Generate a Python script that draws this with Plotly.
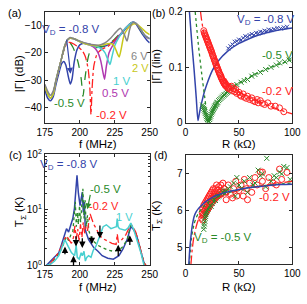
import math
import plotly.graph_objects as go

FONT = "Liberation Sans, Arial, Helvetica, sans-serif"
BLUE = "#3344aa"; GREEN = "#2a8a2a"; RED = "#ff2222"; MAG = "#b038b0"
CYAN = "#48d0d0"; YEL = "#c8c818"; GRAY = "#858585"

# ---------------- (a) |Gamma| (dB) vs f (MHz) ----------------
a_blue_f = [175, 177, 179, 181, 183, 185, 187, 188.5, 190, 191.5, 193.2, 194.5, 196, 198, 200, 203, 207, 211, 215, 219, 223, 227, 231, 234, 236.5, 238.2, 240, 242, 245, 248, 250]
a_blue_db = [-33.5, -36.5, -37.5, -36, -31.5, -27.5, -24, -23.2, -24.5, -28, -31.4, -29.5, -23.5, -19, -17.2, -16.6, -17, -17.8, -18, -17.5, -16.3, -14.5, -12.5, -10.5, -9.3, -8.9, -9.5, -11, -13.5, -15.5, -16.5]
a_green_f = [175, 177, 179, 181, 183, 185, 187, 189, 191, 193, 195, 197, 199, 201, 202.3, 203.8, 205.5, 207, 210, 214, 218, 222, 226, 230, 234, 236.5, 238.2, 240, 242, 245, 248, 250]
a_green_db = [-32, -34.5, -36, -34.5, -30, -26, -22, -18.5, -16.5, -16.5, -18, -20.5, -24, -29.5, -35.9, -29, -23, -20, -18.5, -18, -17.5, -16.5, -14.5, -12.5, -10.5, -9.4, -9, -9.5, -10.8, -13, -15, -16]
a_red_f = [175, 177, 179, 181, 183, 185, 187, 189, 191, 193, 196, 199, 202, 204, 206, 207.2, 208, 208.8, 210, 212, 214, 217, 220, 224, 228, 232, 235, 238, 240, 243, 246, 250]
a_red_db = [-32.5, -35, -36.5, -35, -30.5, -26, -22, -18.5, -16.5, -16.3, -17, -18, -19.5, -21.5, -26, -33, -42.5, -33, -25, -21, -19.5, -18.5, -17.8, -16, -14, -11.5, -10, -9.2, -9.4, -11.2, -13.5, -15.5]
a_mag_f = [175, 177, 179, 181, 183, 185, 187, 189, 191, 193, 196, 200, 204, 208, 211, 213, 215, 216.5, 217.7, 219, 221, 224, 228, 232, 235, 238, 240, 243, 246, 250]
a_mag_db = [-32, -35, -36.5, -35, -30, -26, -22, -18, -15.5, -14.8, -15, -16, -16.8, -17.5, -18.5, -20, -23, -27, -29.7, -25, -20, -17, -14, -11.5, -10, -9, -9.3, -11, -13.5, -15]
a_cyan_f = [175, 177, 179, 181, 183, 185, 187, 189, 191, 193, 196, 200, 204, 208, 212, 215, 218, 220, 221.6, 223, 225, 228, 232, 235, 238, 240, 243, 246, 250]
a_cyan_db = [-32, -35, -36.5, -35, -30, -26, -22, -18, -15.5, -14.8, -15, -16, -16.8, -17.3, -17.8, -18.5, -20, -22.5, -24.3, -21.5, -17.5, -14.5, -11.5, -10, -9, -9.3, -11, -13.5, -15]
a_yel_f = [175, 177, 179, 181, 183, 185, 187, 189, 191, 193, 196, 200, 204, 208, 212, 216, 220, 223, 225, 227, 228.2, 229.5, 231.5, 234, 237, 239, 241, 244, 247, 250]
a_yel_db = [-32, -35, -36.5, -35, -30, -26, -22, -18, -15.5, -14.8, -15, -16, -16.8, -17.3, -17.5, -17.2, -16.8, -16.8, -18, -20.5, -21.6, -19, -14, -11.5, -10, -9.5, -9.8, -11, -12.5, -13.5]
a_gray_f = [175, 177, 179, 181, 183, 185, 187, 189, 191, 193, 195, 198, 202, 206, 210, 214, 218, 222, 226, 229, 231.5, 233.8, 235.5, 237, 238.5, 241, 244, 247, 250]
a_gray_db = [-31.5, -34, -35.5, -34, -30, -26, -22, -18, -15.5, -14.5, -14.8, -15.5, -16.2, -16.8, -17.2, -17.3, -16.5, -14.8, -12.5, -11.2, -13, -15.8, -12, -9.6, -9.1, -9.8, -12, -14, -15]

# ---------------- (b) |Gamma| (lin) vs R (kOhm) ----------------
b_blue_fit_r = [3.6, 6, 8, 10, 11.6, 13, 15, 17.5, 20, 25, 30, 40, 50, 60, 70, 80, 90, 100]
b_blue_fit_g = [0.2, 0.14, 0.095, 0.045, 0.004, 0.018, 0.036, 0.055, 0.07, 0.094, 0.11, 0.13, 0.143, 0.152, 0.159, 0.164, 0.168, 0.171]
b_blue_pts_r = [40, 42, 44, 46, 48, 50, 52, 54, 56, 58, 60, 62, 64, 66, 68, 70, 72, 74, 76, 78, 80, 83, 86, 89, 92, 95]
b_blue_pts_g = [0.134, 0.138, 0.141, 0.146, 0.147, 0.15, 0.149, 0.153, 0.156, 0.155, 0.158, 0.16, 0.158, 0.162, 0.161, 0.164, 0.163, 0.166, 0.165, 0.168, 0.167, 0.169, 0.171, 0.17, 0.172, 0.173]
b_green_fit_r = [9, 12, 15, 18, 21.4, 25, 30, 40, 50, 60, 70, 80, 90, 100]
b_green_fit_g = [0.2, 0.14, 0.09, 0.045, 0.002, 0.02, 0.038, 0.058, 0.072, 0.083, 0.092, 0.1, 0.107, 0.114]
b_green_pts_r = [16, 16.5, 17, 17.5, 18, 18.5, 19, 19.5, 20, 20.5, 21, 21.5, 22, 22.5, 23, 23.5, 24, 24.5, 25, 25.5, 26, 26.5, 27, 27.5, 28, 28.5, 29, 29.5, 30, 31, 32, 33, 34, 35, 36, 37, 38, 39, 40, 42, 45, 48, 52, 55, 58, 62, 65, 70, 75, 80, 85, 88, 93, 97]
b_green_pts_g = [0.032, 0.029, 0.026, 0.023, 0.02, 0.017, 0.014, 0.011, 0.008, 0.006, 0.004, 0.002, 0.003, 0.006, 0.009, 0.012, 0.015, 0.018, 0.02, 0.022, 0.024, 0.026, 0.028, 0.03, 0.031, 0.033, 0.034, 0.036, 0.037, 0.04, 0.042, 0.044, 0.046, 0.048, 0.05, 0.051, 0.053, 0.055, 0.056, 0.06, 0.066, 0.069, 0.073, 0.076, 0.078, 0.084, 0.087, 0.091, 0.096, 0.1, 0.104, 0.108, 0.11, 0.113]
b_red_fit_r = [14, 15, 17, 20, 24, 28, 32, 36, 40, 45, 50, 55, 60, 70, 80, 90, 100]
b_red_fit_g = [0.2, 0.185, 0.163, 0.148, 0.13, 0.113, 0.098, 0.084, 0.072, 0.063, 0.056, 0.05, 0.045, 0.037, 0.029, 0.022, 0.016]
b_red_pts_r = [17, 17.5, 18, 18.5, 19, 19.5, 20, 20.5, 21, 21.5, 22, 22.5, 23, 23.5, 24, 24.5, 25, 25.5, 26, 26.5, 27, 27.5, 28, 28.5, 29, 29.5, 30, 30.5, 31, 31.5, 32, 32.5, 33, 33.5, 34, 34.5, 35, 35.5, 36, 36.5, 37, 37.5, 38, 39, 40, 41, 42, 43, 44, 45, 46, 47, 48, 50, 51, 52, 54, 55, 57, 58, 60, 62, 63, 65, 67, 68, 70, 72, 74, 77, 80, 84, 88, 92]
b_red_pts_g = [0.166, 0.162, 0.16, 0.157, 0.155, 0.152, 0.15, 0.147, 0.145, 0.142, 0.14, 0.137, 0.135, 0.132, 0.13, 0.127, 0.124, 0.121, 0.119, 0.116, 0.113, 0.111, 0.108, 0.105, 0.103, 0.1, 0.098, 0.095, 0.093, 0.09, 0.088, 0.086, 0.083, 0.081, 0.079, 0.077, 0.075, 0.073, 0.071, 0.07, 0.068, 0.067, 0.066, 0.064, 0.062, 0.064, 0.06, 0.066, 0.058, 0.062, 0.056, 0.06, 0.053, 0.055, 0.05, 0.048, 0.052, 0.046, 0.044, 0.048, 0.042, 0.045, 0.04, 0.038, 0.042, 0.036, 0.04, 0.035, 0.033, 0.036, 0.03, 0.03, 0.027, 0.02]

# ---------------- (c) T_Sigma (K) vs f (MHz), log ----------------
c_blue_f = [176, 179, 182, 185, 187, 189, 190.5, 192, 193.5, 195, 196.2, 197, 198, 199, 200.2, 201, 201.8, 202.5, 203.2, 204, 205, 206.3, 208, 210, 213, 216, 220, 224, 228, 231, 234, 236.5, 238, 240, 241.5, 243, 244.5, 246, 247]
c_blue_t = [1.0, 1.2, 1.4, 1.7, 2.4, 3.5, 4.6, 4.0, 5.6, 7, 10.8, 18, 42, 20, 12, 16, 21, 9, 14, 4.3, 3.5, 2.9, 2.5, 2.1, 1.8, 1.5, 1.35, 1.3, 1.5, 2.0, 3.0, 5.0, 4.6, 3.8, 2.9, 2.0, 1.5, 1.1, 1.0]
c_green_f = [178, 181, 184, 187, 189, 190.5, 192, 193.5, 195, 196.8, 197.5, 198.3, 199, 199.8, 200.6, 201.3, 202.2, 203, 203.8, 204.6, 205.5, 206.5, 208, 210, 213, 216, 220, 224, 228, 231, 234, 236.5, 238, 240, 241.5, 243, 244.5, 246, 247.5]
c_green_t = [1.0, 1.2, 1.5, 2.0, 2.8, 3.3, 2.8, 3.5, 4.0, 14, 5, 9, 5.5, 12, 6, 10, 24, 7, 15, 5, 8, 4.2, 3.2, 2.7, 2.3, 2.1, 1.9, 1.8, 1.9, 2.2, 3.0, 5.3, 4.8, 3.9, 3.0, 2.1, 1.5, 1.1, 1.0]
c_red_f = [178, 181, 184, 187, 189, 190.5, 192, 194, 195.5, 196.5, 197.5, 198.5, 199.5, 200.5, 201.5, 202.5, 203.5, 204.5, 205.5, 206.5, 207.4, 208.5, 210, 212, 214, 217, 220, 223, 226, 226.8, 227.6, 230, 233, 236.5, 238, 240, 241.5, 243, 244.5, 246, 247.5]
c_red_t = [1.0, 1.25, 1.6, 2.2, 3.0, 3.4, 2.9, 2.5, 3.2, 5.2, 3.0, 4.5, 2.8, 5.5, 3.2, 6, 3.8, 5, 4.2, 6.5, 8.5, 7, 5.5, 4.5, 3.5, 3.0, 2.7, 2.5, 2.4, 3.7, 2.6, 2.9, 3.6, 5.5, 5.0, 4.0, 3.0, 2.1, 1.5, 1.1, 1.0]
c_cyan_f = [176, 179, 182, 185, 188.3, 189.4, 191.7, 194, 196.3, 197.4, 198.2, 199.6, 201, 201.8, 203, 204, 205, 206.3, 208, 209.7, 211.5, 213.3, 215, 216.7, 219, 222.3, 225.2, 226.2, 226.8, 227.4, 228.4, 230.5, 232.4, 234.5, 236.5, 238.5, 240.3, 242, 243.7, 245, 246]
c_cyan_t = [1.0, 1.05, 1.2, 1.5, 2.5, 2.9, 2.2, 1.7, 1.5, 2.3, 1.4, 1.3, 1.7, 1.5, 1.8, 1.2, 1.4, 1.5, 1.4, 1.9, 2.2, 2.9, 4.0, 5.0, 5.4, 4.6, 4.9, 5.0, 7.0, 5.0, 4.6, 4.4, 4.3, 4.7, 5.8, 4.5, 3.3, 2.4, 1.7, 1.25, 1.0]
c_up_f = [189.4, 195.5, 227.5, 235.8]
c_up_tail = [1.5, 0.93, 1.39, 2.2]
c_up_head = [2.2, 1.49, 2.37, 3.5]
c_down_f = [197.3, 201.8, 208.6, 214.4]
c_down_tail = [3.56, 3.3, 3.56, 5.6]
c_down_head = [2.2, 2.07, 2.4, 3.07]

# ---------------- (d) T_Sigma (K) vs R (kOhm) ----------------
d_blue_fit_r = [3, 4, 5, 6, 7, 8, 10, 12, 15, 18, 22, 26, 30, 35, 40, 50, 60, 70, 80, 90, 100]
d_blue_fit_t = [4.55, 5.0, 5.3, 5.55, 5.72, 5.85, 5.98, 6.06, 6.15, 6.23, 6.31, 6.38, 6.43, 6.48, 6.52, 6.58, 6.63, 6.66, 6.69, 6.71, 6.72]
d_green_fit_r = [3.5, 4.5, 5.5, 6.5, 8, 10, 12, 15, 18, 22, 26, 30, 35, 40, 50, 60, 70, 80, 90, 100]
d_green_fit_t = [4.55, 4.95, 5.25, 5.45, 5.65, 5.82, 5.93, 6.05, 6.15, 6.25, 6.32, 6.38, 6.44, 6.49, 6.57, 6.63, 6.67, 6.7, 6.73, 6.75]
d_red_fit_r = [5, 6, 7, 8, 10, 12, 15, 18, 22, 26, 30, 35, 40, 50, 60, 70, 80, 90, 100]
d_red_fit_t = [4.55, 4.9, 5.15, 5.33, 5.58, 5.76, 5.93, 6.05, 6.17, 6.26, 6.33, 6.4, 6.46, 6.55, 6.62, 6.68, 6.72, 6.76, 6.8]
d_green_pts_r = [17, 17.3, 17.6, 18, 18.3, 18.7, 19, 19.5, 20, 21, 22, 23, 24, 25, 26, 27, 28, 29, 30, 31, 33, 35, 36, 38, 40, 42, 45, 46.6, 48, 50, 52, 55, 58, 60, 63, 65, 68, 70, 72, 75, 76, 80, 83, 85, 88, 90, 92, 95, 98]
d_green_pts_t = [5.5, 5.58, 5.65, 5.72, 5.8, 5.85, 5.9, 5.95, 6.0, 6.05, 6.1, 6.15, 6.12, 6.2, 6.25, 6.3, 6.28, 6.35, 6.38, 6.4, 6.45, 6.5, 6.55, 6.52, 6.6, 6.65, 6.75, 6.4, 6.9, 6.7, 6.6, 6.8, 6.5, 6.9, 6.7, 6.75, 7.1, 6.95, 7.0, 6.65, 7.42, 6.8, 6.95, 6.9, 7.05, 7.0, 7.2, 7.17, 6.85]
d_red_pts_r = [15, 15.5, 16, 16, 16.5, 17, 17, 17.5, 18, 18, 18.5, 19, 19, 19.5, 20, 20, 20.5, 21, 21, 22, 22, 22.5, 23, 23, 24, 24, 24.5, 25, 25, 26, 26, 26.5, 27, 27, 28, 28, 29, 29, 30, 30, 31, 31, 32, 33, 33, 34, 35, 35, 36, 38, 38, 40, 42, 44, 45, 47, 48, 50, 52, 54, 55, 57, 58, 60, 62, 65, 67, 70, 72, 72, 75, 78, 82, 85, 88, 90, 95]
d_red_pts_t = [5.8, 5.95, 5.75, 6.05, 5.9, 5.85, 6.15, 6.0, 5.9, 6.2, 6.05, 5.95, 6.25, 6.1, 6.0, 6.3, 6.15, 6.05, 6.35, 6.1, 6.4, 6.25, 6.15, 6.45, 6.2, 6.5, 6.35, 6.25, 6.55, 6.3, 6.6, 6.4, 6.3, 6.5, 6.35, 6.6, 6.4, 6.7, 6.4, 6.55, 6.45, 6.65, 6.5, 6.45, 6.7, 6.55, 6.5, 6.75, 6.6, 6.3, 6.5, 6.7, 6.45, 6.35, 6.6, 6.8, 6.4, 6.55, 6.7, 6.4, 6.85, 6.6, 6.3, 6.75, 6.5, 6.9, 6.7, 7.05, 6.8, 7.05, 6.6, 6.9, 6.75, 6.7, 7.13, 6.85, 7.04]

fig = go.Figure()


def add_line(x, y, color, dash, ax, width=1.5, shape="spline"):
    fig.add_trace(go.Scatter(
        x=x, y=y, mode="lines",
        line=dict(color=color, dash=dash, width=width, shape=shape, smoothing=0.6),
        xaxis="x" + ax, yaxis="y" + ax, hoverinfo="skip"))


def add_pts(x, y, color, symbol, ax, size=5, lw=1):
    fig.add_trace(go.Scatter(
        x=x, y=y, mode="markers",
        marker=dict(color=color, symbol=symbol, size=size, line=dict(color=color, width=lw)),
        xaxis="x" + ax, yaxis="y" + ax, hoverinfo="skip"))


# (a)
add_line(a_blue_f, a_blue_db, BLUE, "solid", "")
add_line(a_green_f, a_green_db, GREEN, "dash", "", 1.3)
add_line(a_red_f, a_red_db, RED, "dashdot", "", 1.3)
add_line(a_mag_f, a_mag_db, MAG, "solid", "")
add_line(a_cyan_f, a_cyan_db, CYAN, "solid", "")
add_line(a_yel_f, a_yel_db, YEL, "solid", "")
add_line(a_gray_f, a_gray_db, GRAY, "solid", "")

# (b)
add_line(b_blue_fit_r, b_blue_fit_g, BLUE, "solid", "2")
add_pts(b_blue_pts_r, b_blue_pts_g, BLUE, "x-thin-open", "2", 4)
add_line(b_green_fit_r, b_green_fit_g, GREEN, "dot", "2", 1.3)
add_pts(b_green_pts_r, b_green_pts_g, GREEN, "x-thin-open", "2", 5)
add_line(b_red_fit_r, b_red_fit_g, RED, "dashdot", "2", 1.3)
add_pts(b_red_pts_r, b_red_pts_g, RED, "circle-open", "2", 6)

# (c)
add_line(c_blue_f, c_blue_t, BLUE, "solid", "3", 1.5, "linear")
add_line(c_green_f, c_green_t, GREEN, "dot", "3", 1.3, "linear")
add_line(c_red_f, c_red_t, RED, "dashdot", "3", 1.3, "linear")
add_line(c_cyan_f, c_cyan_t, CYAN, "solid", "3", 1.5, "linear")

# (d)
add_pts(d_red_pts_r, d_red_pts_t, RED, "circle-open", "4", 6)
add_pts(d_green_pts_r, d_green_pts_t, GREEN, "x-thin-open", "4", 5)
add_line(d_red_fit_r, d_red_fit_t, RED, "dashdot", "4", 1.3)
add_line(d_green_fit_r, d_green_fit_t, GREEN, "dot", "4", 1.3)
add_line(d_blue_fit_r, d_blue_fit_t, BLUE, "solid", "4", 1.5)

W, H = 307, 304


def PX(x):
    return x / W


def PY(y):
    return 1 - y / H


axis_common = dict(showline=True, linecolor="#2a2a2a", linewidth=1, mirror="ticks",
                   ticks="inside", ticklen=3, tickwidth=1, tickcolor="#2a2a2a",
                   showgrid=False, zeroline=False,
                   tickfont=dict(family=FONT, size=10, color="black"))

xa_dom = [PX(39), PX(150)]
xb_dom = [PX(188), PX(301)]
ytop_dom = [PY(121), PY(5)]
ybot_dom = [PY(270), PY(154)]

fig.update_layout(
    width=W, height=H, margin=dict(l=0, r=0, t=0, b=0),
    paper_bgcolor="white", plot_bgcolor="white", showlegend=False,
    font=dict(family=FONT, size=10, color="black"),
    xaxis=dict(domain=xa_dom, range=[175, 250], tickvals=[175, 200, 225, 250], anchor="y", **axis_common),
    yaxis=dict(domain=ytop_dom, range=[-45.5, -5.2], tickvals=[-40, -30, -20, -10], anchor="x", **axis_common),
    xaxis2=dict(domain=xb_dom, range=[0, 100], tickvals=[0, 50, 100], anchor="y2", **axis_common),
    yaxis2=dict(domain=ytop_dom, range=[0, 0.2], tickvals=[0, 0.1, 0.2], ticktext=["0", "0.1", "0.2"], anchor="x2", **axis_common),
    xaxis3=dict(domain=xa_dom, range=[175, 250], tickvals=[175, 200, 225, 250], anchor="y3", **axis_common),
    yaxis3=dict(domain=ybot_dom, type="log", range=[0, 2], tickvals=[1, 10, 100],
                ticktext=["10<sup>0</sup>", "10<sup>1</sup>", "10<sup>2</sup>"], anchor="x3",
                minor=dict(ticks="inside", ticklen=2, tickcolor="#2a2a2a", tickmode="array",
                           tickvals=[2, 3, 4, 5, 6, 7, 8, 9, 20, 30, 40, 50, 60, 70, 80, 90]),
                **axis_common),
    xaxis4=dict(domain=xb_dom, range=[0, 100], tickvals=[0, 50, 100], anchor="y4", **axis_common),
    yaxis4=dict(domain=[PY(269), PY(155)], range=[4.55, 7.5], tickvals=[5, 6, 7], anchor="x4", **axis_common),
)

ann = []


def txt(x, y, s, color="black", size=11.5, angle=0):
    ann.append(dict(x=PX(x), y=PY(y), xref="paper", yref="paper", text=s, showarrow=False,
                    font=dict(family=FONT, size=size, color=color), textangle=angle,
                    xanchor="center", yanchor="middle"))


# panel labels
txt(7, 6, "(a)", size=11)
txt(159, 6, "(b)", size=11)
txt(8, 155, "(c)", size=11)
txt(161, 155, "(d)", size=11)
# axis titles
txt(95, 143, "f (MHz)")
txt(245, 143, "R (kΩ)")
txt(95, 293, "f (MHz)")
txt(245, 292, "R (kΩ)")
txt(12, 70, "|Γ| (dB)", angle=-90)
txt(157, 62, "|Γ| (lin)", angle=-90)
txt(13, 214, "T<sub>Σ</sub> (K)", angle=-90)
txt(157, 218, "T<sub>Σ</sub> (K)", angle=-90)
# (a) labels
txt(67, 24, "V<sub>D</sub> = -0.8 V", BLUE)
txt(65, 100, "-0.5 V", GREEN)
txt(110, 113, "-0.2 V", RED)
txt(114, 90, "0.5 V", MAG)
txt(121, 77, "1 V", CYAN)
txt(140, 64, "2 V", YEL, 11)
txt(139, 51, "6 V", GRAY, 11)
# (b) labels
txt(273, 14, "V<sub>D</sub> = -0.8 V", BLUE)
txt(285, 50, "-0.5 V", GREEN)
txt(285, 88, "-0.2 V", RED)
# (c) labels
txt(65, 165, "V<sub>D</sub> = -0.8 V", BLUE)
txt(103, 190, "-0.5 V", GREEN)
txt(102, 208, "-0.2 V", RED, 11)
txt(123, 219, "1 V", CYAN, 11)
# (d) labels
txt(282, 198, "-0.2 V", RED)
txt(228, 241, "V<sub>D</sub> = -0.5 V", GREEN)

# arrows
ann.append(dict(x=193.4, y=-27.7, ax=190.5, ay=-14.8, xref="x", yref="y", axref="x", ayref="y",
                showarrow=True, arrowhead=2, arrowsize=1, arrowwidth=1.2, arrowcolor=BLUE, text=""))
ann.append(dict(x=205.4, y=1.01, ax=207.7, ay=1.3, xref="x3", yref="y3", axref="x3", ayref="y3",
                showarrow=True, arrowhead=2, arrowsize=1, arrowwidth=1.2, arrowcolor=GREEN, text=""))
for f, t0, t1 in zip(c_up_f, c_up_tail, c_up_head):
    ann.append(dict(x=f, y=math.log10(t1), ax=f, ay=math.log10(t0), xref="x3", yref="y3",
                    axref="x3", ayref="y3", showarrow=True, arrowhead=2, arrowsize=1,
                    arrowwidth=1.3, arrowcolor="black", text=""))
for f, t0, t1 in zip(c_down_f, c_down_tail, c_down_head):
    ann.append(dict(x=f, y=math.log10(t1), ax=f, ay=math.log10(t0), xref="x3", yref="y3",
                    axref="x3", ayref="y3", showarrow=True, arrowhead=2, arrowsize=1,
                    arrowwidth=1.3, arrowcolor="black", text=""))

fig.update_layout(annotations=ann)
fig.write_html("out.html", config={"displayModeBar": False, "staticPlot": True},
               post_script="document.body.style.margin='0';document.body.style.overflow='hidden';")
